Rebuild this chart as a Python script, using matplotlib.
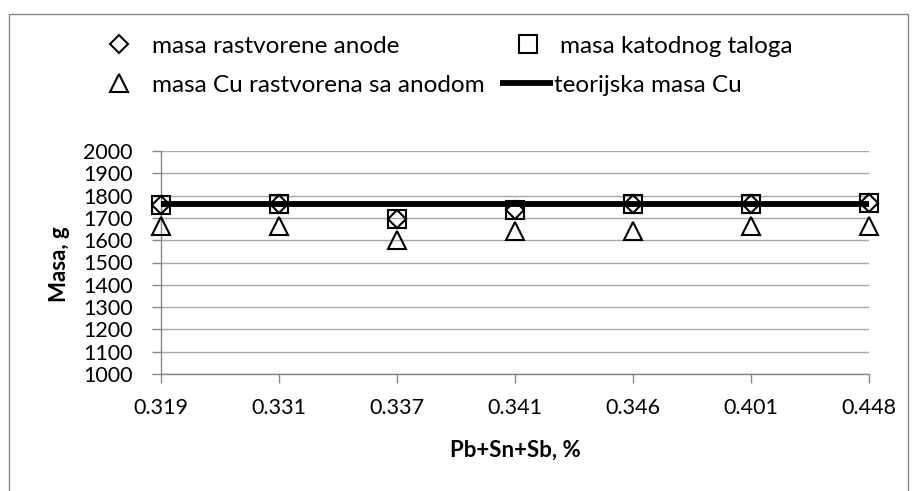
import matplotlib
matplotlib.use('Agg')
import matplotlib.pyplot as plt
from matplotlib.patches import Rectangle

# Pb+Sn+Sb content of the anodes, %
sastav = ['0.319', '0.331', '0.337', '0.341', '0.346', '0.401', '0.448']

# masses, g
masa_anode = [1760, 1763, 1695, 1737, 1763, 1763, 1766]
masa_katode = [1760, 1763, 1696, 1737, 1763, 1763, 1766]
masa_cu = [1663, 1663, 1600, 1640, 1640, 1663, 1663]
teorijska_cu = [1761, 1761, 1761, 1761, 1761, 1761, 1761]

y_ticks = list(range(1000, 2001, 100))

W, H = 917, 491
FS_TICK = 15.5
FS_LEG = 17.5
FS_LAB = 16
GRAY = '#868686'

plt.rcParams['font.family'] = ['Lato', 'DejaVu Sans']


def fig_xy(x, y):
    return (x / W, 1 - y / H)


fig = plt.figure(figsize=(W / 100, H / 100), dpi=100)
ax = fig.add_axes([161 / W, 1 - 374 / H, 708 / W, 223 / H])

pos = list(range(len(sastav)))
h1, = ax.plot(pos, masa_anode, linestyle='none', marker='D', ms=9.4,
              mfc='none', mec='black', mew=1.5, zorder=3, clip_on=False)
h2, = ax.plot(pos, masa_katode, linestyle='none', marker='s', ms=12.8,
              mfc='none', mec='black', mew=1.5, zorder=4, clip_on=False)
h3, = ax.plot(pos, masa_cu, linestyle='none', marker='^', ms=12.5,
              mfc='none', mec='black', mew=1.5, zorder=5, clip_on=False)
h4, = ax.plot(pos, teorijska_cu, color='black', lw=4.2, zorder=6,
              solid_capstyle='butt')

ax.set_xlim(0, len(sastav) - 1)
ax.set_ylim(1000, 2000)
ax.set_yticks(y_ticks)
ax.set_xticks(pos)
ax.set_xticklabels(sastav)
ax.grid(axis='y', color='#a6a6a6', lw=1.0)
ax.set_axisbelow(True)
for s in ['top', 'right']:
    ax.spines[s].set_visible(False)
for s in ['left', 'bottom']:
    ax.spines[s].set_color(GRAY)
    ax.spines[s].set_linewidth(1.0)
ax.tick_params(axis='y', length=6.5, width=1, color=GRAY, pad=14, labelsize=FS_TICK)
ax.tick_params(axis='x', length=6.5, width=1, color=GRAY, pad=10.5, labelsize=FS_TICK)

ax.set_xlabel('Pb+Sn+Sb, %', fontsize=FS_LAB, fontweight='bold')
ax.xaxis.set_label_coords(0.5, (374 - 440) / 223)
fig.text(*fig_xy(60, 264), 'Masa, g', rotation=90, ha='center', va='center',
         fontsize=FS_LAB, fontweight='bold')


def entry(handle, label, x0, y, hl, pad):
    fig.legend([handle], [label], loc='center left', bbox_to_anchor=fig_xy(x0, y),
               frameon=False, borderpad=0, borderaxespad=0, handlelength=hl,
               handletextpad=pad, fontsize=FS_LEG, numpoints=1)


em = FS_LEG * 100 / 72
entry(h1, 'masa rastvorene anode', 119 - em / 2, 46, 1.0, (152 - 119 - em / 2) / em)
entry(h2, 'masa katodnog taloga', 528 - em / 2, 46, 1.0, (560 - 528 - em / 2) / em)
entry(h3, 'masa Cu rastvorena sa anodom', 119 - em / 2, 85, 1.0, (152 - 119 - em / 2) / em)
entry(h4, 'teorijska masa Cu', 500, 85, 53 / em, 0.05)

fig.add_artist(Rectangle(fig_xy(9, 500), 899 / W, 486 / H, transform=fig.transFigure,
                         fill=False, ec=GRAY, lw=1.0))

fig.savefig('out.png', dpi=100)
